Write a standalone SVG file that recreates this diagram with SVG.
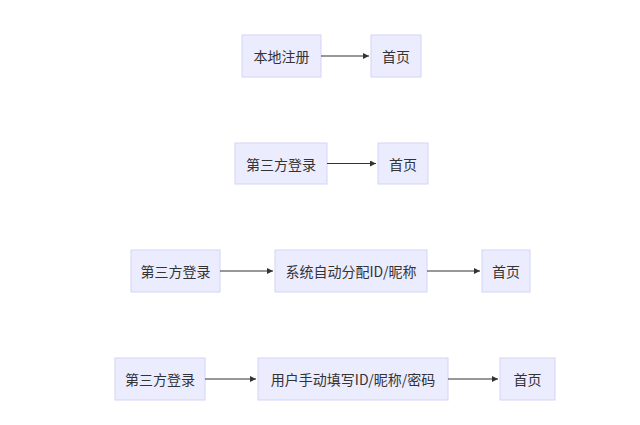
<svg xmlns="http://www.w3.org/2000/svg" width="640" height="425" viewBox="0 0 640 425">
<style>
.n rect{fill:#ececff;stroke:#d4d4f5;stroke-width:1}
.n text{font-family:"Microsoft YaHei","Noto Sans CJK SC",sans-serif;font-size:14px;fill:#333;text-anchor:middle;dominant-baseline:central}
.e line{stroke:#333;stroke-width:1.2;marker-end:url(#a)}
</style>
<defs><marker id="a" viewBox="0 0 10 10" refX="10" refY="5" markerWidth="6" markerHeight="6" orient="auto" markerUnits="userSpaceOnUse"><path d="M0,0L10,5L0,10z" fill="#333"/></marker></defs>
<rect width="640" height="425" fill="#fff"/>
<g id="r1a" class="n"><rect x="242" y="35" width="79" height="42"/><text x="281.5" y="56">本地注册</text></g>
<g id="r1b" class="n"><rect x="371" y="35" width="50" height="42"/><text x="396" y="56">首页</text></g>
<g id="r2a" class="n"><rect x="235" y="143" width="92" height="41"/><text x="281" y="163.5">第三方登录</text></g>
<g id="r2b" class="n"><rect x="378" y="143" width="50" height="41"/><text x="403" y="163.5">首页</text></g>
<g id="r3a" class="n"><rect x="131" y="250" width="89" height="42"/><text x="175.5" y="271">第三方登录</text></g>
<g id="r3b" class="n"><rect x="275" y="250" width="152" height="42"/><text x="351" y="271">系统自动分配ID/昵称</text></g>
<g id="r3c" class="n"><rect x="482" y="250" width="48" height="42"/><text x="506" y="271">首页</text></g>
<g id="r4a" class="n"><rect x="115" y="358" width="90" height="42"/><text x="160" y="379">第三方登录</text></g>
<g id="r4b" class="n"><rect x="258" y="358" width="190" height="42"/><text x="353" y="379">用户手动填写ID/昵称/密码</text></g>
<g id="r4c" class="n"><rect x="500" y="358" width="55" height="42"/><text x="527.5" y="379">首页</text></g>
<g id="edges" class="e">
<line x1="321" y1="56" x2="369" y2="56"/>
<line x1="327" y1="163.5" x2="376" y2="163.5"/>
<line x1="220" y1="271" x2="273" y2="271"/>
<line x1="427" y1="271" x2="480" y2="271"/>
<line x1="205" y1="379" x2="256" y2="379"/>
<line x1="448" y1="379" x2="498" y2="379"/>
</g>
</svg>
